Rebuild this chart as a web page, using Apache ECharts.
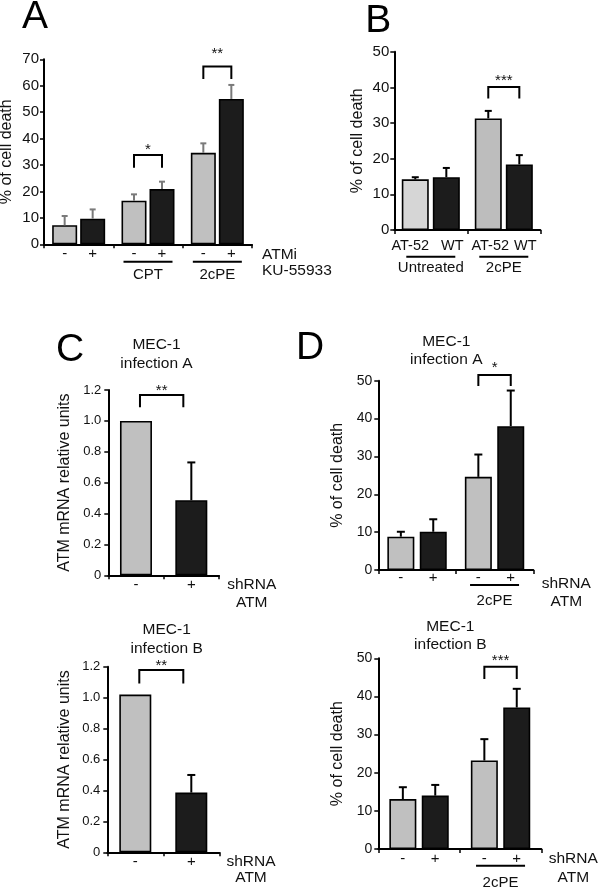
<!DOCTYPE html>
<html><head><meta charset="utf-8">
<script src="https://cdn.jsdelivr.net/npm/echarts@6/dist/echarts.min.js"></script>
<style>html,body{margin:0;padding:0;background:#fff}#c{width:600px;height:888px}</style>
</head><body><div id="c"></div>
<script>
// ---------- Panel A ----------
const A_groups = ['', 'CPT', '2cPE'];
const A_barNames = ['-', '+'];
const A_ctrl = [7.2, 16.5, 34.6];
const A_ctrlErr = [3.5, 2.4, 3.6];
const A_atmi = [9.7, 20.9, 55.0];
const A_atmiErr = [3.5, 2.8, 5.3];
const A_sigGroup = [1, 2];
const A_sigLeg = [29.0, 62.5];
const A_sigTop = [33.8, 67.3];
const A_sigStar = [37.0, 73.3];
const A_sigText = ['*', '**'];
// ---------- Panel B ----------
const B_groups = ['Untreated', '2cPE'];
const B_barNames = ['AT-52', 'WT'];
const B_at52 = [14.2, 31.3];
const B_at52Err = [0.6, 2.1];
const B_wt = [14.8, 18.4];
const B_wtErr = [2.6, 2.6];
const B_sigGroup = [1];
const B_sigLeg = [36.9];
const B_sigTop = [40.1];
const B_sigStar = [42.6];
const B_sigText = ['***'];
// ---------- Panel C (top: infection A, bottom: infection B) ----------
const C_cats = ['-', '+'];
const C1_vals = [1.0, 0.486];
const C1_err = [0, 0.245];
const C1_sigLeg = [1.088];
const C1_sigTop = [1.168];
const C1_sigStar = [1.213];
const C1_sigText = ['**'];
const C2_vals = [1.02, 0.386];
const C2_err = [0, 0.114];
const C2_sigLeg = [1.092];
const C2_sigTop = [1.178];
const C2_sigStar = [1.222];
const C2_sigText = ['**'];
// ---------- Panel D (top: infection A, bottom: infection B) ----------
const D_groups = ['', '2cPE'];
const D_barNames = ['-', '+'];
const D1_ctrl = [8.8, 24.6];
const D1_ctrlErr = [1.3, 5.9];
const D1_sh = [10.1, 38.0];
const D1_shErr = [3.3, 9.4];
const D1_sigLeg = [48.6];
const D1_sigTop = [51.5];
const D1_sigStar = [54.1];
const D1_sigText = ['*'];
const D2_ctrl = [13.1, 23.2];
const D2_ctrlErr = [3.1, 5.6];
const D2_sh = [14.0, 37.1];
const D2_shErr = [2.8, 4.9];
const D2_sigLeg = [44.6];
const D2_sigTop = [47.8];
const D2_sigStar = [50.0];
const D2_sigText = ['***'];

const FONT = '"Liberation Sans", Arial, sans-serif';
const INK = '#111';
const GRAY = '#c0c0c0';
const DARK = '#1c1c1c';

const option = {
  animation: false,
  backgroundColor: '#fff',
  textStyle: { fontFamily: FONT },
  grid: [], xAxis: [], yAxis: [], series: [], graphic: []
};

function addAxes(p) {
  const i = option.grid.length;
  option.grid.push({ left: p.left, top: p.top, width: p.width, height: p.height, outerBoundsMode: 'none', containLabel: false });
  option.xAxis.push({
    type: 'category', gridIndex: i, data: p.cats,
    axisLine: { show: true, lineStyle: { color: '#000', width: 2 } },
    axisTick: { show: true, length: 4, inside: false, lineStyle: { color: '#000', width: 1.5 } },
    axisLabel: { show: true, interval: 0, margin: p.catMargin, fontSize: 15, color: INK, fontFamily: FONT },
    splitLine: { show: false },
    name: p.xName, nameLocation: 'end', nameGap: p.xNameGap,
    nameTextStyle: { fontSize: 15.5, color: INK, fontFamily: FONT, align: p.xNameAlign, verticalAlign: 'top',
      lineHeight: p.xNameLH, padding: [p.xNamePad, 0, 0, 0] }
  });
  option.yAxis.push({
    type: 'value', gridIndex: i, min: 0, max: p.max, interval: p.interval,
    axisLine: { show: true, lineStyle: { color: '#000', width: 2 } },
    axisTick: { show: true, length: 4, inside: false, lineStyle: { color: '#000', width: 1.5 } },
    axisLabel: { show: true, margin: p.tickMargin, fontSize: p.tickFont, color: INK, fontFamily: FONT,
      formatter: p.tickFmt || (v => String(v)) },
    splitLine: { show: false },
    name: p.yName, nameLocation: 'middle', nameRotate: 90, nameGap: p.yNameGap,
    nameTextStyle: { fontSize: 16, color: INK, fontFamily: FONT }
  });
  return i;
}

function errSeries(i, data, offset, color, cap) {
  option.series.push({
    type: 'custom', xAxisIndex: i, yAxisIndex: i, z: 5, clip: false, silent: true,
    data: data,
    renderItem: function (params, api) {
      const c = api.value(0), v = api.value(1), e = api.value(2);
      if (!(e > 0)) return null;
      const p0 = api.coord([c, v]), p1 = api.coord([c, v + e]);
      const x = p0[0] + offset;
      return { type: 'group', children: [
        { type: 'line', shape: { x1: x, y1: p0[1], x2: x, y2: p1[1] }, style: { stroke: color, lineWidth: 2 } },
        { type: 'line', shape: { x1: x - cap / 2, y1: p1[1], x2: x + cap / 2, y2: p1[1] }, style: { stroke: color, lineWidth: 2 } }
      ] };
    }
  });
}

// data rows: [leftCategory, rightCategory, legValue, topValue, starValue]
function bracketSeries(i, data, texts, offL, offR) {
  option.series.push({
    type: 'custom', xAxisIndex: i, yAxisIndex: i, z: 6, clip: false, silent: true,
    data: data,
    renderItem: function (params, api) {
      const gl = api.value(0), gr = api.value(1);
      const pl = api.coord([gl, api.value(2)]), pr = api.coord([gr, api.value(2)]);
      const yt = api.coord([gl, api.value(3)])[1], ys = api.coord([gl, api.value(4)])[1];
      const xl = pl[0] + offL, xr = pr[0] + offR;
      return { type: 'group', children: [
        { type: 'polyline', shape: { points: [[xl, pl[1]], [xl, yt], [xr, yt], [xr, pl[1]]] },
          style: { stroke: '#000', fill: null, lineWidth: 2 } },
        { type: 'text', style: { x: (xl + xr) / 2, y: ys + 3, text: texts[params.dataIndex], align: 'center',
          verticalAlign: 'middle', fontSize: 15, fontFamily: FONT, fill: INK } }
      ] };
    }
  });
}

function groupLineSeries(i, groups, dy, halfLen) {
  const data = groups.map((n, k) => n ? [k, 0] : null).filter(d => d);
  option.series.push({
    type: 'custom', xAxisIndex: i, yAxisIndex: i, z: 6, clip: false, silent: true,
    data: data,
    renderItem: function (params, api) {
      const p = api.coord([api.value(0), 0]);
      return { type: 'line', shape: { x1: p[0] - halfLen, y1: p[1] + dy, x2: p[0] + halfLen, y2: p[1] + dy },
        style: { stroke: '#000', lineWidth: 2 } };
    }
  });
}

function pairedPanel(p) {
  const i = addAxes(p);
  const gapPx = p.barWidth * p.barGap;
  const off = (p.barWidth + gapPx) / 2;
  const mk = (name, vals, color, colors, lblOffs) => ({
    type: 'bar', name: name, xAxisIndex: i, yAxisIndex: i, barWidth: p.barWidth,
    barGap: Math.round(p.barGap * 100) + '%', z: 3,
    data: vals.map((v, k) => {
      const item = { value: v };
      if (colors) item.itemStyle = { color: colors[k] };
      if (lblOffs) item.label = { offset: [lblOffs[k], 0] };
      return item;
    }),
    itemStyle: { color: color, borderColor: '#000', borderWidth: 1.6 },
    label: { show: true, position: 'bottom', distance: p.labelDist, formatter: name,
      fontSize: p.barLabelFont, color: INK, fontFamily: FONT }
  });
  const lo = p.labelOffsets || [null, null];
  option.series.push(mk(p.names[0], p.s1, GRAY, p.s1Colors, lo[0]));
  option.series.push(mk(p.names[1], p.s2, DARK, null, lo[1]));
  errSeries(i, p.s1.map((v, k) => [k, v, p.e1[k]]), -off, p.errColor, p.cap);
  errSeries(i, p.s2.map((v, k) => [k, v, p.e2[k]]), off, p.errColor, p.cap);
  bracketSeries(i, p.sigGroup.map((g, k) => [g, g, p.sigLeg[k], p.sigTop[k], p.sigStar[k]]), p.sigText, -off, off);
  groupLineSeries(i, p.cats, p.lineDy, 24.5);
}

function singlePanel(p) {
  const i = addAxes(p);
  option.series.push({
    type: 'bar', xAxisIndex: i, yAxisIndex: i, barWidth: p.barWidth, z: 3,
    data: p.vals.map((v, k) => ({ value: v, itemStyle: { color: k === 0 ? GRAY : DARK } })),
    itemStyle: { borderColor: '#000', borderWidth: 1.6 }
  });
  errSeries(i, p.vals.map((v, k) => [k, v, p.err[k]]), 0, '#000', 8);
  bracketSeries(i, [[0, 1, p.sigLeg[0], p.sigTop[0], p.sigStar[0]]], p.sigText, 4, -8);
}

// Panel A
pairedPanel({
  left: 44, top: 59.3, width: 208, height: 185, cats: A_groups, max: 70, interval: 10,
  catMargin: 23, tickFont: 15, tickMargin: 5, yName: '% of cell death', yNameGap: 29,
  xName: 'ATMi\nKU-55933', xNameGap: 10, xNameAlign: 'left', xNameLH: 16, xNamePad: 2,
  names: A_barNames, s1: A_ctrl, e1: A_ctrlErr, s2: A_atmi, e2: A_atmiErr,
  barWidth: 25, barGap: 0.12, labelDist: 2, barLabelFont: 15, errColor: '#7a7a7a', cap: 6,
  sigGroup: A_sigGroup, sigLeg: A_sigLeg, sigTop: A_sigTop, sigStar: A_sigStar, sigText: A_sigText,
  lineDy: 17.4
});
// Panel B
pairedPanel({
  left: 394.3, top: 51.7, width: 146, height: 178.3, cats: B_groups, max: 50, interval: 10,
  catMargin: 30, tickFont: 15, tickMargin: 5, yName: '% of cell death', yNameGap: 29,
  xName: '', xNameGap: 0, xNameAlign: 'left', xNameLH: 16, xNamePad: 0,
  names: B_barNames, s1: B_at52, e1: B_at52Err, s2: B_wt, e2: B_wtErr, s1Colors: ['#d6d6d6', '#bdbdbd'],
  barWidth: 27, barGap: 0.15, labelDist: 8, barLabelFont: 14.5, labelOffsets: [[-5, 2], [6, 6]], errColor: '#000', cap: 7,
  sigGroup: B_sigGroup, sigLeg: B_sigLeg, sigTop: B_sigTop, sigStar: B_sigStar, sigText: B_sigText,
  lineDy: 26.7
});
// Panel C top
singlePanel({
  left: 108.3, top: 390, width: 110.7, height: 185.3, cats: C_cats, max: 1.2, interval: 0.2,
  catMargin: 2, tickFont: 13, tickMargin: 7, tickFmt: v => v === 0 ? '0' : v.toFixed(1),
  yName: 'ATM mRNA relative units', yNameGap: 36,
  xName: 'shRNA\nATM', xNameGap: 32.7, xNameAlign: 'center', xNameLH: 17.5, xNamePad: 1,
  barWidth: 32, vals: C1_vals, err: C1_err,
  sigLeg: C1_sigLeg, sigTop: C1_sigTop, sigStar: C1_sigStar, sigText: C1_sigText
});
// Panel C bottom
singlePanel({
  left: 107.3, top: 666.7, width: 112, height: 185.6, cats: C_cats, max: 1.2, interval: 0.2,
  catMargin: 2, tickFont: 13, tickMargin: 7, tickFmt: v => v === 0 ? '0' : v.toFixed(1),
  yName: 'ATM mRNA relative units', yNameGap: 35,
  xName: 'shRNA\nATM', xNameGap: 31.7, xNameAlign: 'center', xNameLH: 16.6, xNamePad: 1,
  barWidth: 32, vals: C2_vals, err: C2_err,
  sigLeg: C2_sigLeg, sigTop: C2_sigTop, sigStar: C2_sigStar, sigText: C2_sigText
});
// Panel D top
pairedPanel({
  left: 378.3, top: 380.7, width: 155, height: 189.3, cats: D_groups, max: 50, interval: 10,
  catMargin: 23, tickFont: 14, tickMargin: 6, yName: '% of cell death', yNameGap: 33,
  xName: 'shRNA\nATM', xNameGap: 33, xNameAlign: 'center', xNameLH: 18.5, xNamePad: 4,
  names: D_barNames, s1: D1_ctrl, e1: D1_ctrlErr, s2: D1_sh, e2: D1_shErr,
  barWidth: 27, barGap: 0.2, labelDist: 0, barLabelFont: 15, errColor: '#000', cap: 8,
  sigGroup: [1], sigLeg: D1_sigLeg, sigTop: D1_sigTop, sigStar: D1_sigStar, sigText: D1_sigText,
  lineDy: 15
});
// Panel D bottom
pairedPanel({
  left: 378.3, top: 658.3, width: 163, height: 190.7, cats: D_groups, max: 50, interval: 10,
  catMargin: 26, tickFont: 14, tickMargin: 6, yName: '% of cell death', yNameGap: 33,
  xName: 'shRNA\nATM', xNameGap: 32, xNameAlign: 'center', xNameLH: 19.3, xNamePad: 0,
  names: D_barNames, s1: D2_ctrl, e1: D2_ctrlErr, s2: D2_sh, e2: D2_shErr,
  barWidth: 27, barGap: 0.2, labelDist: 2, barLabelFont: 15, errColor: '#000', cap: 8,
  sigGroup: [1], sigLeg: D2_sigLeg, sigTop: D2_sigTop, sigStar: D2_sigStar, sigText: D2_sigText,
  lineDy: 16.7
});

// Panel letters and subtitles
const letters = [['A', 35, 17], ['B', 378.3, 21.7], ['C', 70, 350], ['D', 310, 348.3]];
letters.forEach(l => option.graphic.push({ type: 'text', x: l[1], y: l[2],
  style: { text: l[0], fontSize: 39, fontFamily: FONT, fill: '#000', align: 'center', verticalAlign: 'middle' } }));
const subs = [['MEC-1\ninfection A', 156.5, 354.2], ['MEC-1\ninfection B', 166.7, 639.2],
              ['MEC-1\ninfection A', 446.3, 350.8], ['MEC-1\ninfection B', 450.3, 635.8]];
subs.forEach(s => option.graphic.push({ type: 'text', x: s[1], y: s[2],
  style: { text: s[0], fontSize: 15.5, lineHeight: 18.3, fontFamily: FONT, fill: INK, align: 'center', verticalAlign: 'middle' } }));

const chart = echarts.init(document.getElementById('c'), null, { renderer: 'canvas' });
chart.setOption(option);
</script>
</body></html>
